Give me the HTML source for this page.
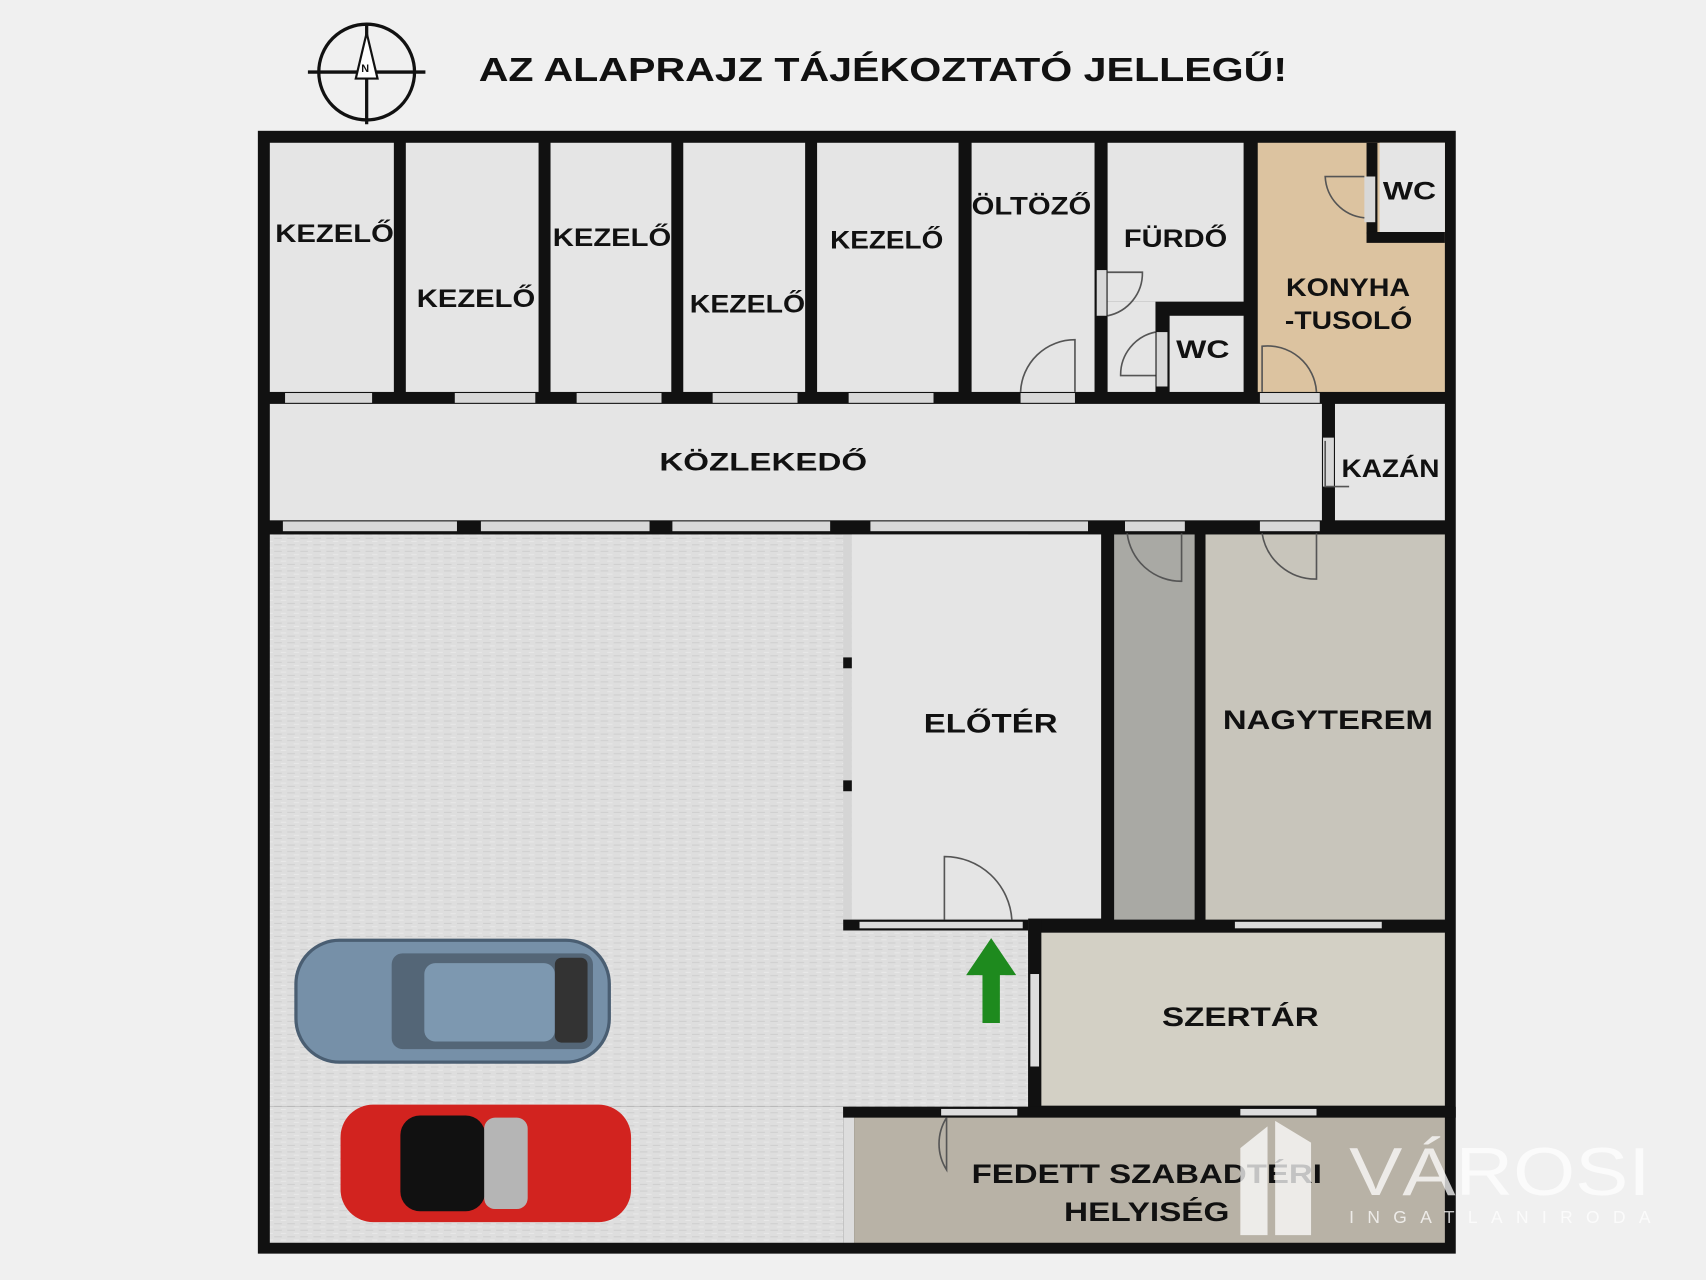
<!DOCTYPE html>
<html><head><meta charset="utf-8"><style>
html,body{margin:0;padding:0;background:#f0f0f0;}
svg{display:block}
text{font-family:"Liberation Sans",sans-serif;font-weight:bold;fill:#111;}
</style></head><body>
<svg width="1706" height="1280" viewBox="0 0 1568 1176" xmlns="http://www.w3.org/2000/svg">
<defs>
<pattern id="asph" width="12" height="6" patternUnits="userSpaceOnUse">
<rect width="12" height="6" fill="#dedede"/><rect x="0" y="2" width="7" height="1" fill="#cfcfcf"/><rect x="6" y="5" width="5" height="1" fill="#e8e8e8"/>
</pattern>
</defs>
<rect width="1568" height="1176" fill="#f0f0f0"/>
<!-- compass -->
<circle cx="337" cy="66" r="44" fill="none" stroke="#111" stroke-width="3"/>
<line x1="283" y1="66" x2="391" y2="66" stroke="#111" stroke-width="3"/>
<line x1="337" y1="22" x2="337" y2="114" stroke="#111" stroke-width="3"/>
<polygon points="337,30 327,72 347,72" fill="#fff" stroke="#111" stroke-width="2"/>
<text x="332" y="66" font-size="10">N</text>
<text x="440" y="74" font-size="31" textLength="743" lengthAdjust="spacingAndGlyphs">AZ ALAPRAJZ TÁJÉKOZTATÓ JELLEGŰ!</text>
<!-- building base -->
<rect x="237" y="120" width="1101" height="1032" fill="#111"/>
<!-- top rooms -->
<g fill="#e5e5e5">
<rect x="248" y="131" width="114" height="229"/>
<rect x="373" y="131" width="122" height="229"/>
<rect x="506" y="131" width="111" height="229"/>
<rect x="628" y="131" width="112" height="229"/>
<rect x="751" y="131" width="130" height="229"/>
<rect x="893" y="131" width="113" height="229"/>
<rect x="1018" y="131" width="125" height="146"/>
<rect x="1018" y="277" width="44" height="83"/>
<rect x="1075" y="290" width="68" height="70"/>
<rect x="1268" y="131" width="60" height="82"/>
<rect x="248" y="371" width="967" height="107"/>
<rect x="1227" y="371" width="101" height="107"/>
<rect x="783" y="491" width="229" height="353"/>
</g>
<rect x="1156" y="131" width="172" height="229" fill="#dcc3a0"/>
<rect x="1256" y="131" width="10" height="84" fill="#111"/>
<rect x="1256" y="213" width="72" height="10" fill="#111"/>
<rect x="1268" y="131" width="60" height="82" fill="#e5e5e5"/>
<!-- corridor door/window openings -->
<g fill="#d8d8d8">
<rect x="262" y="361" width="80" height="9"/><rect x="418" y="361" width="74" height="9"/>
<rect x="530" y="361" width="78" height="9"/><rect x="655" y="361" width="78" height="9"/>
<rect x="780" y="361" width="78" height="9"/><rect x="938" y="361" width="50" height="9"/>
<rect x="1158" y="361" width="55" height="9"/><rect x="1216" y="402" width="10" height="45"/>
<rect x="1008" y="248" width="9" height="42"/><rect x="1063" y="305" width="10" height="50"/>
<rect x="1254" y="162" width="10" height="42"/>
<rect x="260" y="479" width="160" height="9"/><rect x="442" y="479" width="155" height="9"/>
<rect x="618" y="479" width="145" height="9"/><rect x="800" y="479" width="200" height="9"/>
<rect x="1034" y="479" width="55" height="9"/><rect x="1158" y="479" width="55" height="9"/>
</g>
<!-- lower spaces -->
<rect x="248" y="491" width="697" height="526" fill="url(#asph)"/>
<rect x="248" y="1017" width="527" height="125" fill="url(#asph)"/>
<rect x="775" y="491" width="8" height="355" fill="#d5d5d5"/>
<rect x="775" y="604" width="8" height="10" fill="#111"/><rect x="775" y="717" width="8" height="10" fill="#111"/>
<rect x="783" y="491" width="229" height="353" fill="#e5e5e5"/>
<rect x="775" y="845" width="170" height="10" fill="#111"/>
<rect x="790" y="847" width="150" height="6" fill="#ddd"/>
<rect x="1024" y="491" width="74" height="354" fill="#a9a9a4"/>
<rect x="1108" y="491" width="220" height="354" fill="#c8c5bb"/>
<rect x="957" y="857" width="371" height="159" fill="#d3d0c5"/>
<rect x="945" y="845" width="12" height="172" fill="#111"/>
<rect x="947" y="895" width="8" height="85" fill="#ddd"/>
<rect x="775" y="1017" width="563" height="10" fill="#111"/>
<rect x="775" y="1027" width="10" height="115" fill="#ddd"/>
<rect x="785" y="1027" width="543" height="115" fill="#b8b2a6"/>
<rect x="1135" y="847" width="135" height="6" fill="#ddd"/>
<rect x="865" y="1019" width="70" height="6" fill="#ddd"/><rect x="1140" y="1019" width="70" height="6" fill="#ddd"/>
<!-- door arcs -->
<g fill="none" stroke="#555" stroke-width="1.5">
<path d="M868 845 V787 A62 62 0 0 1 930 845"/>
<path d="M938 360 A50 50 0 0 1 988 312 V360"/>
<path d="M1160 360 V318 A45 45 0 0 1 1210 360"/>
<path d="M1018 250 H1050 A40 40 0 0 1 1018 290"/>
<path d="M1062 345 H1030 A40 40 0 0 1 1062 305"/>
<path d="M1254 162 H1218 A40 40 0 0 0 1254 200"/>
<path d="M1036 490 A50 50 0 0 0 1086 534 V490"/>
<path d="M1160 490 A50 50 0 0 0 1210 532 V490"/>
<path d="M870 1027 V1075 A45 45 0 0 1 870 1027"/>
<path d="M1218 405 V447 H1240"/>
</g>
<!-- arrow -->
<polygon points="911,862 888,896 903,896 903,940 919,940 919,896 934,896" fill="#1e8a1e"/>
<!-- cars -->
<g>
<rect x="272" y="864" width="288" height="112" rx="40" fill="#7690a8" stroke="#4a5e72" stroke-width="3"/>
<rect x="360" y="876" width="185" height="88" rx="10" fill="#546677"/>
<rect x="390" y="885" width="120" height="72" rx="10" fill="#7d98b0"/>
<rect x="510" y="880" width="30" height="78" rx="6" fill="#333"/>
<rect x="313" y="1015" width="267" height="108" rx="30" fill="#d2231f"/>
<rect x="368" y="1025" width="78" height="88" rx="18" fill="#111"/>
<rect x="445" y="1027" width="40" height="84" rx="10" fill="#b5b5b5"/>
</g>
<!-- labels -->
<g font-size="23" lengthAdjust="spacingAndGlyphs">
<text x="253" y="222" textLength="109" lengthAdjust="spacingAndGlyphs">KEZELŐ</text>
<text x="383" y="282" textLength="109" lengthAdjust="spacingAndGlyphs">KEZELŐ</text>
<text x="508" y="226" textLength="109" lengthAdjust="spacingAndGlyphs">KEZELŐ</text>
<text x="634" y="287" textLength="106" lengthAdjust="spacingAndGlyphs">KEZELŐ</text>
<text x="763" y="228" textLength="104" lengthAdjust="spacingAndGlyphs">KEZELŐ</text>
<text x="893" y="197" textLength="110" lengthAdjust="spacingAndGlyphs">ÖLTÖZŐ</text>
<text x="1033" y="227" textLength="95" lengthAdjust="spacingAndGlyphs">FÜRDŐ</text>
<text x="1271" y="183" textLength="49" lengthAdjust="spacingAndGlyphs">WC</text>
<text x="1081" y="329" textLength="49" lengthAdjust="spacingAndGlyphs">WC</text>
<text x="1182" y="272" textLength="114" lengthAdjust="spacingAndGlyphs">KONYHA</text>
<text x="1181" y="302" textLength="117" lengthAdjust="spacingAndGlyphs">-TUSOLÓ</text>
<text x="606" y="432" textLength="191" lengthAdjust="spacingAndGlyphs">KÖZLEKEDŐ</text>
<text x="1233" y="438" textLength="90" lengthAdjust="spacingAndGlyphs">KAZÁN</text>
<text x="849" y="673" font-size="25" textLength="123" lengthAdjust="spacingAndGlyphs">ELŐTÉR</text>
<text x="1124" y="670" font-size="25" textLength="193" lengthAdjust="spacingAndGlyphs">NAGYTEREM</text>
<text x="1068" y="943" font-size="25" textLength="144" lengthAdjust="spacingAndGlyphs">SZERTÁR</text>
<text x="893" y="1087" font-size="25" textLength="322" lengthAdjust="spacingAndGlyphs">FEDETT SZABADTÉRI</text>
<text x="978" y="1122" font-size="25" textLength="152" lengthAdjust="spacingAndGlyphs">HELYISÉG</text>
</g>
<!-- watermark -->
<g opacity="0.75">
<polygon points="1140,1055 1165,1035 1165,1135 1140,1135" fill="#fff"/>
<polygon points="1172,1030 1205,1050 1205,1135 1172,1135" fill="#fff"/>
<text x="1240" y="1098" font-size="62" textLength="277" lengthAdjust="spacingAndGlyphs" style="fill:#fff;font-weight:normal">VÁROSI</text>
<text x="1240" y="1124" font-size="16" textLength="277" style="fill:#fff;font-weight:normal">INGATLANIRODA</text>
</g>
</svg>
</body></html>
